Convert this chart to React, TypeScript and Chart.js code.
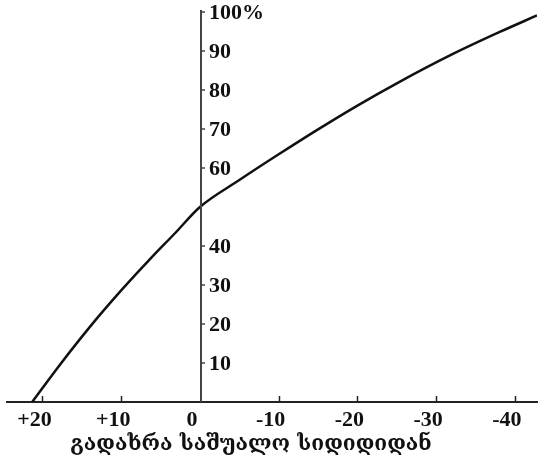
import React, { useEffect, useRef } from 'react';
import { Chart, registerables } from 'chart.js';

Chart.register(...registerables);

// Deviation from the mean value (x) and cumulative share in percent (y)
const deviationX = [21.3, 17.8, 14, 10, 6.4, 3.2, 0, -5, -10, -15, -20, -25, -32, -38, -42.8];
const sharePct = [0, 9.5, 19.2, 28.6, 36.5, 43.2, 50, 56.9, 63.5, 69.9, 76.0, 81.7, 89.1, 94.8, 99.1];

const xTickValues = [20, 10, 0, -10, -20, -30, -40];
const yTickValues = [10, 20, 30, 40, 60, 70, 80, 90, 100];
const xAxisTitle = 'გადახრა საშუალო სიდიდიდან';

const X_MIN = -42.8;
const X_MAX = 24.5;
const Y_MAX = 100.5;

const LABEL_FONT = 'bold 22px "Liberation Serif", "DejaVu Serif", serif';
const TITLE_FONT = 'bold 21px "DejaVu Serif", serif';

const formatX = (v: number) => (v > 0 ? `+${v}` : `${v}`);
const formatY = (v: number) => (v === 100 ? '100%' : `${v}`);

// Draws the vertical axis through x = 0, the small tick marks and the axis title
const centerAxisPlugin = {
  id: 'centerAxis',
  afterDraw(chart: any) {
    const { ctx, chartArea } = chart;
    const xs = chart.scales.x;
    const ys = chart.scales.y;
    const ax = Math.round(xs.getPixelForValue(0)) + 1;

    ctx.save();
    // vertical axis line
    ctx.strokeStyle = '#444';
    ctx.lineWidth = 2;
    ctx.beginPath();
    ctx.moveTo(ax, ys.getPixelForValue(Y_MAX));
    ctx.lineTo(ax, chartArea.bottom);
    ctx.stroke();

    // y tick marks and labels to the right of the axis
    ctx.lineWidth = 1.5;
    ctx.fillStyle = '#111';
    ctx.font = LABEL_FONT;
    ctx.textAlign = 'left';
    ctx.textBaseline = 'middle';
    yTickValues.forEach((v) => {
      const py = Math.round(ys.getPixelForValue(v));
      ctx.beginPath();
      ctx.moveTo(ax + 1, py);
      ctx.lineTo(ax + 4, py);
      ctx.stroke();
      ctx.fillText(formatY(v), ax + 8, py + 1);
    });

    // short upward tick marks on the horizontal axis
    ctx.strokeStyle = '#222';
    xTickValues.forEach((v) => {
      if (v === 0) return;
      const px = Math.round(xs.getPixelForValue(v)) + 0.5;
      ctx.beginPath();
      ctx.moveTo(px, chartArea.bottom - 1);
      ctx.lineTo(px, chartArea.bottom - 6);
      ctx.stroke();
    });

    // horizontal axis title
    ctx.font = TITLE_FONT;
    ctx.textAlign = 'center';
    ctx.fillStyle = '#111';
    ctx.fillText(xAxisTitle, 251, 445);
    ctx.restore();
  },
};

export default function App() {
  const canvasRef = useRef<HTMLCanvasElement | null>(null);

  useEffect(() => {
    if (!canvasRef.current) return;
    const chart = new Chart(canvasRef.current, {
      type: 'line',
      data: {
        datasets: [
          {
            data: deviationX.map((x, i) => ({ x, y: sharePct[i] })),
            borderColor: '#111',
            borderWidth: 2.5,
            pointRadius: 0,
            cubicInterpolationMode: 'monotone',
            fill: false,
          },
        ],
      },
      options: {
        responsive: false,
        animation: false,
        layout: { padding: { left: 7, right: 2, top: 10, bottom: 0 } },
        plugins: {
          legend: { display: false },
          tooltip: { enabled: false },
        },
        scales: {
          x: {
            type: 'linear',
            reverse: true,
            min: X_MIN,
            max: X_MAX,
            afterBuildTicks: (s: any) => {
              s.ticks = xTickValues.map((v) => ({ value: v }));
            },
            afterFit: (s: any) => {
              s.height = 61;
            },
            grid: { drawOnChartArea: false, drawTicks: false },
            border: { display: true, color: '#222', width: 2 },
            ticks: {
              padding: 5,
              labelOffset: -8,
              autoSkip: false,
              maxRotation: 0,
              color: '#111',
              font: { family: '"Liberation Serif", serif', size: 22, weight: 'bold' },
              callback: (v: any) => formatX(Number(v)),
            },
          },
          y: {
            type: 'linear',
            min: 0,
            max: Y_MAX,
            display: false,
          },
        },
      },
      plugins: [centerAxisPlugin],
    } as any);
    return () => chart.destroy();
  }, []);

  return (
    <div style={{ position: 'absolute', left: 0, top: 0, width: 539, height: 463, background: '#fff' }}>
      <canvas ref={canvasRef} width={539} height={463} />
    </div>
  );
}
